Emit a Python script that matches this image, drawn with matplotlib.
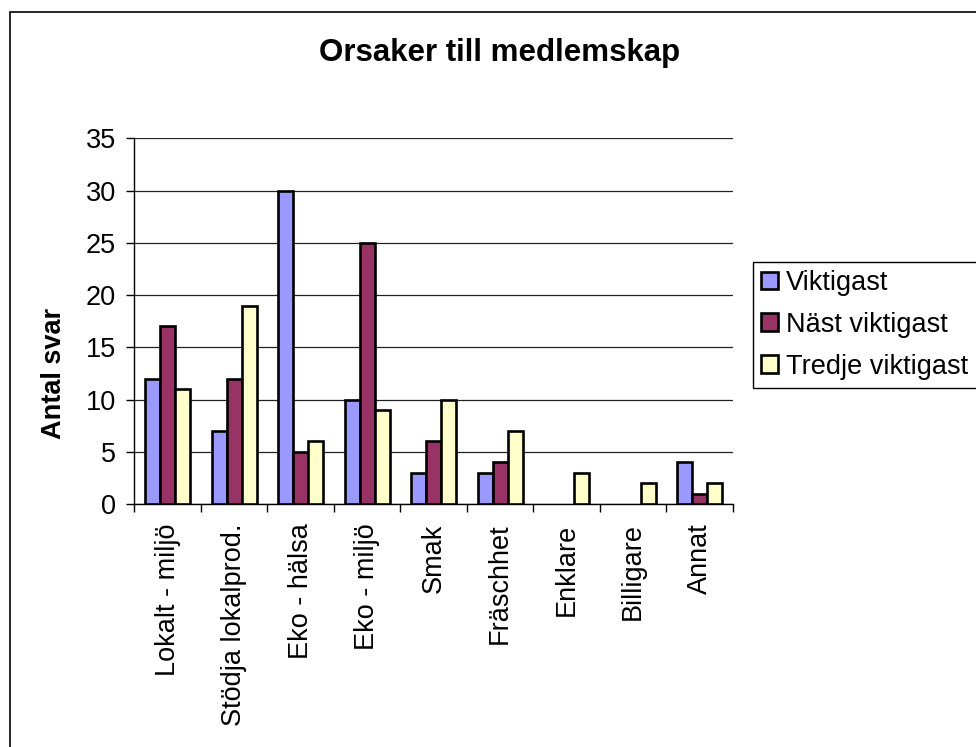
import matplotlib
matplotlib.use('Agg')
import matplotlib.pyplot as plt
import numpy as np

plt.rcParams['font.family'] = ['Liberation Sans', 'DejaVu Sans']

categories = ['Lokalt - miljö', 'Stödja lokalprod.', 'Eko - hälsa', 'Eko - miljö',
              'Smak', 'Fräschhet', 'Enklare', 'Billigare', 'Annat']
viktigast = [12, 7, 30, 10, 3, 3, 0, 0, 4]
nast_viktigast = [17, 12, 5, 25, 6, 4, 0, 0, 1]
tredje_viktigast = [11, 19, 6, 9, 10, 7, 3, 2, 2]

fig = plt.figure(figsize=(9.76, 7.47), dpi=100)
ax = fig.add_axes([0.1376, 0.3253, 0.6134, 0.4893])

x = np.arange(len(categories))
w = 0.226
series = [(viktigast, '#9999ff', 'Viktigast', -w),
          (nast_viktigast, '#993366', 'Näst viktigast', 0),
          (tredje_viktigast, '#ffffcc', 'Tredje viktigast', w)]
for vals, col, lab, off in series:
    # empty bars get no outline
    lws = [1.9 if v > 0 else 0 for v in vals]
    ax.bar(x + off, vals, w, color=col, edgecolor='black', linewidth=lws,
           label=lab, zorder=3)

ax.set_xlim(-0.5, len(categories) - 0.5)
ax.set_ylim(0, 35)
ax.set_yticks(range(0, 36, 5))
ax.yaxis.grid(True, color='#222222', linewidth=0.9, zorder=0)
ax.set_xticks(np.arange(-0.5, len(categories), 1))
ax.set_xticklabels([])
ax.set_xticks(x, minor=True)
ax.set_xticklabels(categories, minor=True, rotation=90, fontsize=19.5, va='top')
ax.tick_params(axis='x', which='minor', length=0, pad=14)
ax.tick_params(axis='x', which='major', length=5.5, width=1, direction='out')
ax.tick_params(axis='y', labelsize=19.5, length=6, width=1, direction='out', pad=7)

for s in ['top', 'right']:
    ax.spines[s].set_visible(False)
ax.spines['left'].set_linewidth(1)
ax.spines['bottom'].set_linewidth(1)

ax.set_ylabel('Antal svar', fontsize=19.5, fontweight='bold')
ax.yaxis.set_label_coords(54 / 976, 0.5, transform=fig.transFigure)
ax.yaxis.label.set_verticalalignment('center')
fig.text(500 / 976, 1 - 53 / 747, 'Orsaker till medlemskap', ha='center', va='center',
         fontsize=22.5, fontweight='bold')

leg = fig.legend(loc='upper left', bbox_to_anchor=(753 / 976, 1 - 262 / 747),
                 fontsize=19.5, frameon=True, fancybox=False, edgecolor='black',
                 handlelength=0.63, handleheight=0.63, handletextpad=0.3,
                 borderpad=0.3, labelspacing=0.58, borderaxespad=0)
leg.get_frame().set_linewidth(1)
leg.get_frame().set_alpha(None)
for h in leg.legend_handles:
    h.set_linewidth(1.9)

fig.patches.append(plt.Rectangle((10 / 976, -0.1), 1.2, 1.1 - 12 / 747,
                                 transform=fig.transFigure, fill=False,
                                 edgecolor='black', linewidth=1.2))

fig.savefig('out.png', dpi=100)
